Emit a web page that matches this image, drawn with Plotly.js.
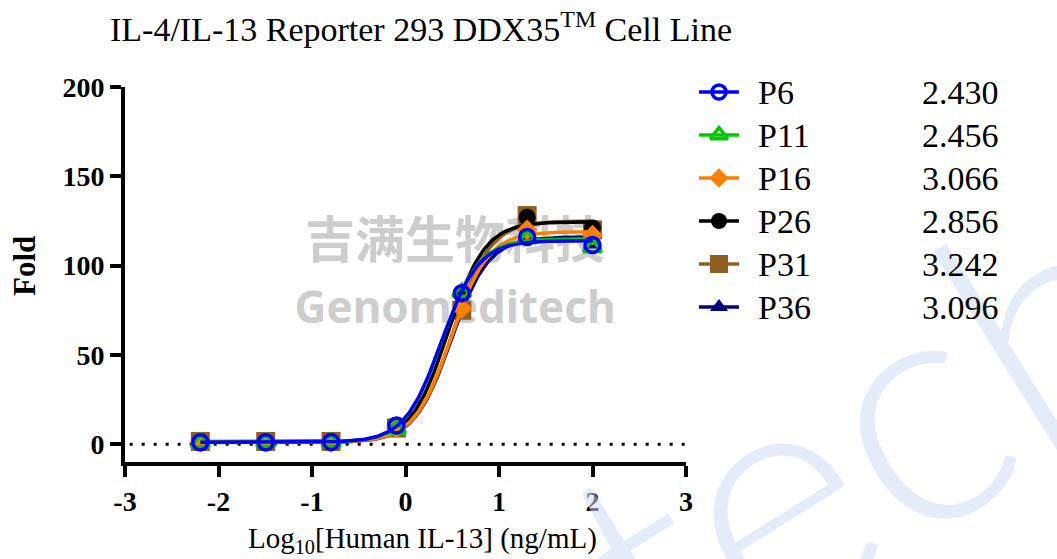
<!DOCTYPE html>
<html>
<head>
<meta charset="utf-8">
<script src="https://cdn.plot.ly/plotly-3.0.1.min.js"></script>
<style>html,body{margin:0;padding:0;background:#fff;}#chart{width:1057px;height:559px;}</style>
</head>
<body>
<div id="chart"></div>
<script>
// ---- data ----
const seriesNames = ["P6", "P11", "P16", "P26", "P31", "P36"];
const logConc = [-2.194, -1.495, -0.796, -0.097, 0.602, 1.301, 2.0];
const foldP6  = [1.0, 1.0, 1.2, 10.5, 84.5, 116, 111.5];
const foldP11 = [0.8, 0.9, 1.0, 8.5, 85, 115, 110];
const foldP16 = [1.0, 1.0, 1.0, 9.0, 76, 120, 117];
const foldP26 = [1.0, 1.0, 1.0, 10.0, 84, 127, 121];
const foldP31 = [1.5, 1.5, 1.5, 9.0, 75, 128, 120];
const foldP36 = [1.0, 1.0, 1.0, 9.0, 80, 116, 112];
const ec50Labels = ["2.430", "2.456", "3.066", "2.856", "3.242", "3.096"];
// fitted 4PL curve parameters (EC50 from the table)
const ec50   = [2.430, 2.456, 3.066, 2.856, 3.242, 3.096];
const tops   = [114, 115, 119, 124.5, 125, 116];
const bottoms= [1.0, 0.9, 1.0, 1.0, 1.5, 1.0];
const hills  = [2.2, 2.2, 2.2, 2.2, 2.2, 2.2];
const xTicks = [-3, -2, -1, 0, 1, 2, 3];
const yTicks = [0, 50, 100, 150, 200];
const watermarkCN = "吉满生物科技";
const watermarkEN = "Genomeditech";

const foldData = [foldP6, foldP11, foldP16, foldP26, foldP31, foldP36];
const colors = ["#0000ff", "#00c800", "#ff8000", "#000000", "#8f5f22", "#000080"];
const symbols = ["circle-open", "triangle-up-open", "diamond", "circle", "square", "triangle-up"];
const msizes = [15, 16, 16, 17, 19, 17];

const serif = "Liberation Serif, Times New Roman, serif";
const traces = [];

// background watermark text (behind the curves)
traces.push({x: [0.53], y: [111], mode: "text", text: ["<b>" + watermarkCN + "</b>"], textfont: {family: "Noto Sans CJK SC", size: 50, color: "#cdcdcd"}, hoverinfo: "skip", showlegend: false, cliponaxis: false});
traces.push({x: [0.53], y: [74], mode: "text", text: ["<b>" + watermarkEN + "</b>"], textfont: {family: "Noto Sans, Arial, sans-serif", size: 44, color: "#cdcdcd"}, hoverinfo: "skip", showlegend: false, cliponaxis: false});

// curve sampling grid
const gridX = [];
for (let i = 0; i <= 200; i++) gridX.push(-2.194 + i * (2.0 + 2.194) / 200);

// draw from back to front: P36 ... P6
for (let k = seriesNames.length - 1; k >= 0; k--) {
  const logE = Math.log10(ec50[k]);
  const cy = gridX.map(x => bottoms[k] + (tops[k] - bottoms[k]) / (1 + Math.pow(10, hills[k] * (logE - x))));
  traces.push({x: gridX, y: cy, mode: "lines", line: {color: colors[k], width: 3.5}, hoverinfo: "skip", showlegend: false, xaxis: "x", yaxis: "y"});
  traces.push({x: logConc, y: foldData[k], mode: "markers", cliponaxis: false,
    marker: {symbol: symbols[k], size: msizes[k], opacity: 1, color: colors[k], line: {color: colors[k], width: symbols[k].indexOf("open") >= 0 ? 3.5 : 0}},
    showlegend: false, xaxis: "x", yaxis: "y"});
}

// custom legend (pixel-unit overlay axes)
const legRowY = [92, 135, 178, 221, 264, 307];
const annotations = [];
const shapes = [];
// faint large background watermark on the right
annotations.push({xref: "paper", yref: "paper", x: (860-125)/932, y: (462-430)/375, text: "tech", showarrow: false, textangle: -32,
  font: {family: "Lato, Noto Sans, sans-serif", size: 330, weight: 300, color: "rgba(205,220,245,0.55)"}, xanchor: "center", yanchor: "middle"});
for (let k = 0; k < seriesNames.length; k++) {
  traces.push({x: [699, 739], y: [legRowY[k], legRowY[k]], mode: "lines", cliponaxis: false,
    line: {color: colors[k], width: 3.5}, showlegend: false, hoverinfo: "skip", xaxis: "x2", yaxis: "y2"});
  traces.push({x: [719], y: [legRowY[k]], mode: "markers", cliponaxis: false,
    marker: {symbol: symbols[k], size: msizes[k] - 1, opacity: 1, color: colors[k], line: {color: colors[k], width: symbols[k].indexOf("open") >= 0 ? 3.5 : 0}},
    showlegend: false, hoverinfo: "skip", xaxis: "x2", yaxis: "y2"});
  annotations.push({xref: "x2", yref: "y2", x: 756, y: legRowY[k], text: seriesNames[k], showarrow: false, xanchor: "left", yanchor: "middle", font: {family: serif, size: 34, color: "#000"}});
  annotations.push({xref: "x2", yref: "y2", x: 920, y: legRowY[k], text: ec50Labels[k], showarrow: false, xanchor: "left", yanchor: "middle", font: {family: serif, size: 34, color: "#000"}});
}
annotations.push({xref: "x2", yref: "y2", x: 1048, y: 48, text: "EC50", showarrow: false, xanchor: "right", yanchor: "middle", font: {family: serif, size: 34, color: "#000"}});
shapes.push({type: "line", xref: "x2", yref: "y2", x0: 738, x1: 1057, y0: 71, y1: 71, line: {color: "#000", width: 3}});
// y title
annotations.push({xref: "paper", yref: "paper", x: (24-125)/932, y: (462-266)/375, text: "<b>Fold</b>", showarrow: false, textangle: -90, font: {family: serif, size: 31, color: "#000"}, xanchor: "center", yanchor: "middle"});
// x title
annotations.push({xref: "paper", yref: "paper", x: (422-125)/932, y: (462-540)/375, text: "Log<sub>10</sub>[Human IL-13] (ng/mL)", showarrow: false, font: {family: serif, size: 29, color: "#000"}, xanchor: "center", yanchor: "middle"});

// zero reference line
shapes.push({type: "line", xref: "x", yref: "y", x0: -2.95, x1: 3, y0: 0, y1: 0, layer: "below", line: {color: "#000", width: 3, dash: "3px,9px"}});

const layout = {
  width: 1057, height: 559,
  margin: {l: 125, r: 0, t: 87, b: 97},
  paper_bgcolor: "#fff", plot_bgcolor: "rgba(0,0,0,0)",
  showlegend: false,
  title: {text: "IL-4/IL-13 Reporter 293 DDX35<sup>TM</sup> Cell Line", x: 421/1057, xref: "container", xanchor: "center", y: 1 - 29/559, yref: "container", yanchor: "middle", font: {family: serif, size: 34, color: "#000"}},
  xaxis: {domain: [0, 561/932], range: [-3, 3], tickvals: xTicks, ticktext: xTicks.map(String), showgrid: false, zeroline: false,
    showline: true, linecolor: "#000", linewidth: 4, ticks: "outside", ticklen: 11, tickwidth: 4, tickcolor: "#000",
    tickfont: {family: serif, size: 28, color: "#000", weight: 700}, anchor: "y"},
  yaxis: {domain: [0, 1], range: [-10, 200], tickvals: yTicks, showgrid: false, zeroline: false,
    showline: true, linecolor: "#000", linewidth: 4, ticks: "outside", ticklen: 11, tickwidth: 4, tickcolor: "#000",
    tickfont: {family: serif, size: 28, color: "#000", weight: 700}, anchor: "x"},
  xaxis2: {domain: [561/932, 1], range: [686, 1057], visible: false, fixedrange: true, anchor: "y2"},
  yaxis2: {domain: [0, 1], range: [462, 87], visible: false, fixedrange: true, anchor: "x2"},
  annotations: annotations,
  shapes: shapes
};
Plotly.newPlot("chart", traces, layout, {displayModeBar: false, staticPlot: true});
</script>
</body>
</html>
